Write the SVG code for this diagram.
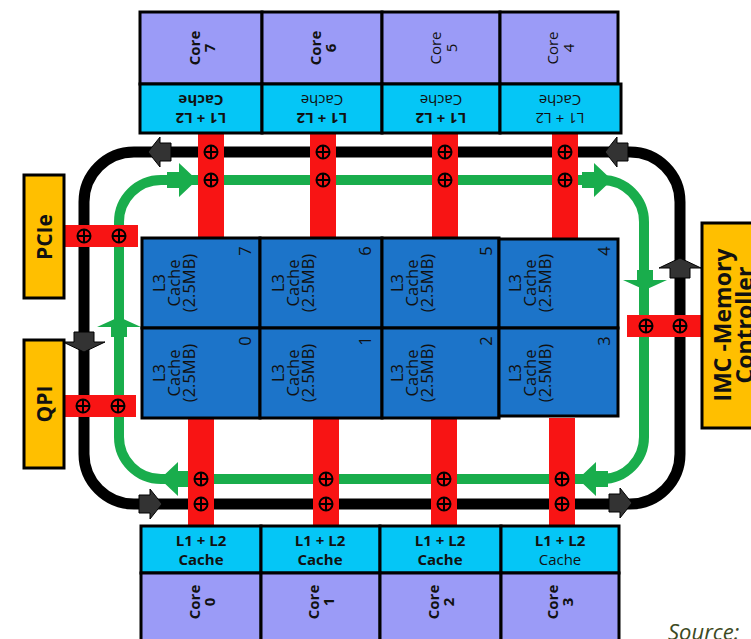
<svg xmlns="http://www.w3.org/2000/svg" xmlns:xlink="http://www.w3.org/1999/xlink" width="751" height="639" viewBox="0 0 751 639">
<style>
.core{fill:#9b9bf7;stroke:#000;stroke-width:3}
.l12{fill:#05c6f6;stroke:#000;stroke-width:3}
.l3{fill:#1c74c9;stroke:#000;stroke-width:3}
.io{fill:#ffbf00;stroke:#000;stroke-width:3}
.bar{fill:#f81414}
.t{font-family:"Open Sans","Liberation Sans",sans-serif;fill:#111;text-anchor:middle;dominant-baseline:central}
.b{font-weight:bold}
.s14{font-size:15px}
.s15{font-size:15px}
.s16{font-size:16.5px}
.big{font-size:21px;font-weight:bold}
.imc{font-size:23px;font-weight:bold}
.ringk{fill:none;stroke:#000;stroke-width:11}
.ringg{fill:none;stroke:#19ad4c;stroke-width:10}
</style>
<defs>
<g id="op"><circle r="6.5" fill="none" stroke="#000" stroke-width="2"/><path d="M-6.5 0H6.5M0-6.5V6.5" stroke="#000" stroke-width="2"/></g>
<polygon id="ba" points="0,0 -12,-15 -12,-9 -23,-9 -23,9 -12,9 -12,15" fill="#333" stroke="#000" stroke-width="1"/>
<polygon id="bs" points="0,0 -10,-21 -10,-10 -20,-10 -20,10 -10,10 -10,21" fill="#333" stroke="#000" stroke-width="1"/>
<polygon id="ga" points="0,0 -18,-17 -18,-8 -30,-8 -30,8 -18,8 -18,17" fill="#19ad4c"/>
<polygon id="gs" points="0,0 -10,-22 -10,-8 -20,-8 -20,8 -10,8 -10,22" fill="#19ad4c"/>
</defs>
<rect width="751" height="639" fill="#fff"/>

<g id="connectors">
<rect class="ringk" x="84" y="152" width="596" height="352" rx="50"/>
<rect class="ringg" x="119" y="180" width="525" height="299" rx="42"/>
<use xlink:href="#ba" transform="translate(148,152) rotate(180)"/>
<use xlink:href="#ba" transform="translate(605,152) rotate(180)"/>
<use xlink:href="#ba" transform="translate(162,504)"/>
<use xlink:href="#ba" transform="translate(632,503)"/>
<use xlink:href="#bs" transform="translate(84,352) rotate(90)"/>
<use xlink:href="#bs" transform="translate(680,258) rotate(-90)"/>
<use xlink:href="#ga" transform="translate(197,180)"/>
<use xlink:href="#ga" transform="translate(612,180)"/>
<use xlink:href="#ga" transform="translate(160,479) rotate(180)"/>
<use xlink:href="#ga" transform="translate(578,479) rotate(180)"/>
<use xlink:href="#gs" transform="translate(119,317) rotate(-90)"/>
<use xlink:href="#gs" transform="translate(645,290) rotate(90)"/>
<rect class="bar" x="198" y="133" width="26" height="105"/>
<rect class="bar" x="310" y="133" width="26" height="105"/>
<rect class="bar" x="432" y="133" width="26" height="105"/>
<rect class="bar" x="552" y="133" width="26" height="105"/>
<rect class="bar" x="188" y="418" width="26" height="108"/>
<rect class="bar" x="313" y="418" width="26" height="108"/>
<rect class="bar" x="431" y="418" width="26" height="108"/>
<rect class="bar" x="549" y="418" width="26" height="108"/>
<rect class="bar" x="65" y="225" width="73" height="22"/>
<rect class="bar" x="62" y="395" width="74" height="22"/>
<rect class="bar" x="627" y="315" width="76" height="22"/>
<use xlink:href="#op" x="211" y="152"/><use xlink:href="#op" x="211" y="180"/>
<use xlink:href="#op" x="323" y="152"/><use xlink:href="#op" x="323" y="180"/>
<use xlink:href="#op" x="445" y="152"/><use xlink:href="#op" x="445" y="180"/>
<use xlink:href="#op" x="565" y="152"/><use xlink:href="#op" x="565" y="180"/>
<use xlink:href="#op" x="201" y="479"/><use xlink:href="#op" x="201" y="504"/>
<use xlink:href="#op" x="326" y="479"/><use xlink:href="#op" x="326" y="504"/>
<use xlink:href="#op" x="444" y="479"/><use xlink:href="#op" x="444" y="504"/>
<use xlink:href="#op" x="562" y="479"/><use xlink:href="#op" x="562" y="504"/>
<use xlink:href="#op" x="84" y="236"/><use xlink:href="#op" x="119" y="236"/>
<use xlink:href="#op" x="83" y="406"/><use xlink:href="#op" x="118" y="406"/>
<use xlink:href="#op" x="646" y="326"/><use xlink:href="#op" x="680" y="326"/>
</g>

<g id="core7"><rect class="core" x="140" y="12" width="122" height="72"/>
<text class="t b s14" transform="translate(194,48) rotate(-90)">Core</text>
<text class="t b s14" transform="translate(209,48) rotate(-90)">7</text></g>
<g id="core6"><rect class="core" x="262" y="12" width="120" height="72"/>
<text class="t b s14" transform="translate(315,48) rotate(-90)">Core</text>
<text class="t b s14" transform="translate(330,48) rotate(-90)">6</text></g>
<g id="core5"><rect class="core" x="382" y="12" width="118" height="72"/>
<text class="t s14" transform="translate(435,48) rotate(-90)">Core</text>
<text class="t s14" transform="translate(451,48) rotate(-90)">5</text></g>
<g id="core4"><rect class="core" x="500" y="12" width="118" height="72"/>
<text class="t s14" transform="translate(552,48) rotate(-90)">Core</text>
<text class="t s14" transform="translate(568,48) rotate(-90)">4</text></g>

<g id="cache7"><rect class="l12" x="140" y="84" width="122" height="49"/>
<text class="t b s15" transform="translate(201,101) rotate(180)">Cache</text>
<text class="t b s15" transform="translate(201,119) rotate(180)">L1 + L2</text></g>
<g id="cache6"><rect class="l12" x="262" y="84" width="120" height="49"/>
<text class="t s15" transform="translate(322,101) rotate(180)">Cache</text>
<text class="t b s15" transform="translate(322,119) rotate(180)">L1 + L2</text></g>
<g id="cache5"><rect class="l12" x="382" y="84" width="118" height="49"/>
<text class="t s15" transform="translate(441,101) rotate(180)">Cache</text>
<text class="t b s15" transform="translate(441,119) rotate(180)">L1 + L2</text></g>
<g id="cache4"><rect class="l12" x="500" y="84" width="121" height="49"/>
<text class="t s15" transform="translate(560,101) rotate(180)">Cache</text>
<text class="t s15" transform="translate(560,119) rotate(180)">L1 + L2</text></g>

<g id="l3_7"><rect class="l3" x="142" y="238" width="118" height="90"/>
<text class="t s16" transform="translate(158,283) rotate(-90)">L3</text>
<text class="t s16" transform="translate(173,283) rotate(-90)">Cache</text>
<text class="t s16" transform="translate(188,283) rotate(-90)">(2.5MB)</text>
<text class="t s16" transform="translate(244,251) rotate(-90)">7</text></g>
<g id="l3_6"><rect class="l3" x="260" y="238" width="122" height="90"/>
<text class="t s16" transform="translate(277,283) rotate(-90)">L3</text>
<text class="t s16" transform="translate(292,283) rotate(-90)">Cache</text>
<text class="t s16" transform="translate(307,283) rotate(-90)">(2.5MB)</text>
<text class="t s16" transform="translate(364,251) rotate(-90)">6</text></g>
<g id="l3_5"><rect class="l3" x="382" y="238" width="117" height="90"/>
<text class="t s16" transform="translate(396,283) rotate(-90)">L3</text>
<text class="t s16" transform="translate(411,283) rotate(-90)">Cache</text>
<text class="t s16" transform="translate(426,283) rotate(-90)">(2.5MB)</text>
<text class="t s16" transform="translate(485,251) rotate(-90)">5</text></g>
<g id="l3_4"><rect class="l3" x="499" y="239" width="119" height="89"/>
<text class="t s16" transform="translate(514,283) rotate(-90)">L3</text>
<text class="t s16" transform="translate(529,283) rotate(-90)">Cache</text>
<text class="t s16" transform="translate(544,283) rotate(-90)">(2.5MB)</text>
<text class="t s16" transform="translate(603,251) rotate(-90)">4</text></g>
<g id="l3_0"><rect class="l3" x="142" y="328" width="118" height="90"/>
<text class="t s16" transform="translate(158,373) rotate(-90)">L3</text>
<text class="t s16" transform="translate(173,373) rotate(-90)">Cache</text>
<text class="t s16" transform="translate(188,373) rotate(-90)">(2.5MB)</text>
<text class="t s16" transform="translate(244,341) rotate(-90)">0</text></g>
<g id="l3_1"><rect class="l3" x="260" y="328" width="122" height="90"/>
<text class="t s16" transform="translate(277,373) rotate(-90)">L3</text>
<text class="t s16" transform="translate(292,373) rotate(-90)">Cache</text>
<text class="t s16" transform="translate(307,373) rotate(-90)">(2.5MB)</text>
<text class="t s16" transform="translate(364,341) rotate(-90)">1</text></g>
<g id="l3_2"><rect class="l3" x="382" y="328" width="117" height="90"/>
<text class="t s16" transform="translate(396,373) rotate(-90)">L3</text>
<text class="t s16" transform="translate(411,373) rotate(-90)">Cache</text>
<text class="t s16" transform="translate(426,373) rotate(-90)">(2.5MB)</text>
<text class="t s16" transform="translate(485,341) rotate(-90)">2</text></g>
<g id="l3_3"><rect class="l3" x="499" y="328" width="119" height="88"/>
<text class="t s16" transform="translate(514,373) rotate(-90)">L3</text>
<text class="t s16" transform="translate(529,373) rotate(-90)">Cache</text>
<text class="t s16" transform="translate(544,373) rotate(-90)">(2.5MB)</text>
<text class="t s16" transform="translate(603,341) rotate(-90)">3</text></g>

<g id="cache0"><rect class="l12" x="141" y="526" width="120" height="47"/>
<text class="t b s15" x="201" y="540">L1 + L2</text>
<text class="t b s15" x="201" y="559">Cache</text></g>
<g id="cache1"><rect class="l12" x="261" y="526" width="119" height="47"/>
<text class="t b s15" x="320" y="540">L1 + L2</text>
<text class="t b s15" x="320" y="559">Cache</text></g>
<g id="cache2"><rect class="l12" x="380" y="526" width="121" height="47"/>
<text class="t b s15" x="440" y="540">L1 + L2</text>
<text class="t b s15" x="440" y="559">Cache</text></g>
<g id="cache3"><rect class="l12" x="501" y="526" width="118" height="47"/>
<text class="t b s15" x="560" y="540">L1 + L2</text>
<text class="t s15" x="560" y="559">Cache</text></g>

<g id="core0"><rect class="core" x="141" y="573" width="120" height="72"/>
<text class="t b s14" transform="translate(194,602) rotate(-90)">Core</text>
<text class="t b s14" transform="translate(209,602) rotate(-90)">0</text></g>
<g id="core1"><rect class="core" x="261" y="573" width="119" height="72"/>
<text class="t b s14" transform="translate(313,602) rotate(-90)">Core</text>
<text class="t b s14" transform="translate(328,602) rotate(-90)">1</text></g>
<g id="core2"><rect class="core" x="380" y="573" width="121" height="72"/>
<text class="t b s14" transform="translate(433,602) rotate(-90)">Core</text>
<text class="t b s14" transform="translate(448,602) rotate(-90)">2</text></g>
<g id="core3"><rect class="core" x="501" y="573" width="118" height="72"/>
<text class="t b s14" transform="translate(552,602) rotate(-90)">Core</text>
<text class="t b s14" transform="translate(567,602) rotate(-90)">3</text></g>

<g id="pcie"><rect class="io" x="24" y="175" width="40" height="123"/>
<text class="t big" transform="translate(44,237) rotate(-90)">PCIe</text></g>
<g id="qpi"><rect class="io" x="24" y="340" width="40" height="128"/>
<text class="t big" transform="translate(44,404) rotate(-90)">QPI</text></g>
<g id="imc"><rect class="io" x="702" y="223" width="60" height="205"/>
<text class="t imc" transform="translate(722,325) rotate(-90)">IMC -Memory</text>
<text class="t imc" transform="translate(744,325) rotate(-90)">Controller</text></g>

<text x="668" y="640" font-family="'Open Sans','Liberation Sans',sans-serif" font-size="22" font-style="italic" fill="#3d4a23">Source:</text>
</svg>
